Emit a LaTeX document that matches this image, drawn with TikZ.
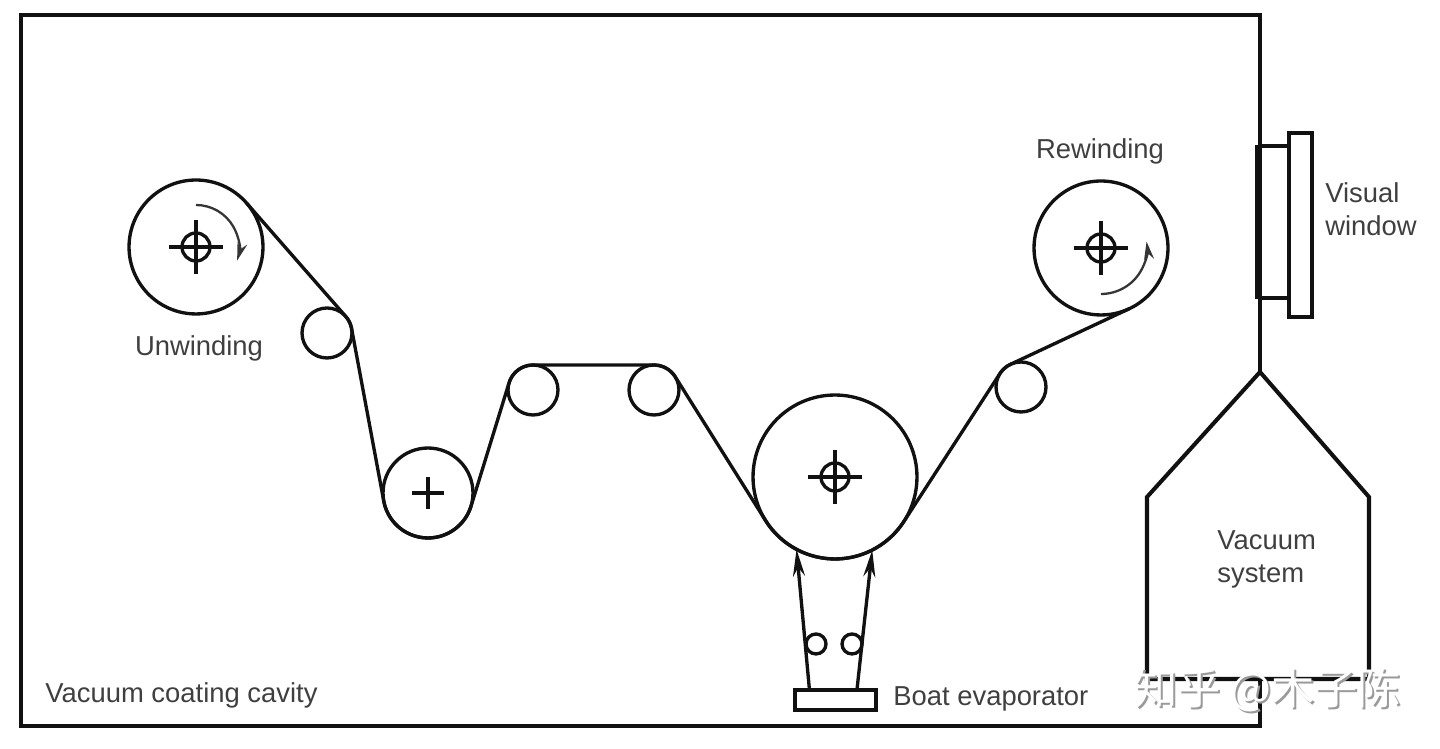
\documentclass[tikz,border=0pt]{standalone}
\usepackage{fontspec}
\setmainfont{Liberation Sans}
\newfontfamily\cjk{Noto Sans CJK SC}
\usepackage{xcolor}
\usetikzlibrary{arrows.meta}
\definecolor{tinta}{HTML}{111111}
\definecolor{grisrotulo}{HTML}{3F3F3F}
\definecolor{grismarca}{HTML}{9A9A9A}
\tikzset{
  linea/.style={draw=tinta,line width=1.9pt},
  marco/.style={draw=tinta,line width=2.3pt,line join=miter},
  rodillo/.style={circle,draw=tinta,line width=1.9pt,inner sep=0pt,outer sep=0pt,minimum size=#1*0.04cm},
  pelicula/.style={draw=tinta,line width=1.9pt,line join=round},
  giro/.style={-{Stealth[length=3.6mm,width=2mm]},draw=tinta!85,line width=1.3pt},
  vapor/.style={-{Stealth[length=5.4mm,width=2.4mm]},draw=tinta,line width=1.9pt},
  rotulo/.style={font=\fontsize{15.6}{18.8}\selectfont,text=grisrotulo,align=left,inner sep=0pt},
  marca/.style={font=\fontsize{24.6}{28}\cjk,inner sep=0pt},
}
\newcommand{\mira}[1]{
  \draw[linea] (#1.center) circle[radius=14];
  \draw[linea] ([xshift=-0.54cm]#1.center) -- ([xshift=0.54cm]#1.center);
  \draw[linea] ([yshift=-0.54cm]#1.center) -- ([yshift=0.54cm]#1.center);
}
\begin{document}
\begin{tikzpicture}[x=0.02cm,y=0.02cm]
  \useasboundingbox (0,0) rectangle (1440,749);
  % cavity and pump
  \draw[marco] (1260,377) -- (1260,734) -- (21,734) -- (21,23) -- (1260,23) -- (1260,70);
  \draw[marco] (1260,377) -- (1369,252) -- (1369,70) -- (1147,70) -- (1147,252) -- cycle;
  % window
  \draw[linea] (1258,603) -- (1288,603) (1258,451) -- (1288,451);
  \draw[draw=tinta,line width=3.6pt] (1258,604) -- (1258,450);
  \draw[linea] (1289,616) rectangle (1312,432);
  % rollers
  \node[rodillo=67] (desenrollo) at (196,502) {};
  \node[rodillo=25] (guiaa) at (327,416) {};
  \node[rodillo=45] (tensor) at (428,256) {};
  \node[rodillo=25] (guiab) at (533,359) {};
  \node[rodillo=25] (guiac) at (654,359) {};
  \node[rodillo=82] (tambor) at (835,272) {};
  \node[rodillo=25] (guiad) at (1021,362) {};
  \node[rodillo=67] (rebobinado) at (1101,501) {};
  \mira{desenrollo}
  \mira{tambor}
  \mira{rebobinado}
  \draw[linea] ([xshift=-0.32cm]tensor.center) -- ([xshift=0.32cm]tensor.center);
  \draw[linea] ([yshift=-0.32cm]tensor.center) -- ([yshift=0.32cm]tensor.center);
  % film
  \draw[pelicula] (desenrollo.41) -- (guiaa.41) arc[start angle=41,end angle=11,radius=25]
    -- (tensor.191) arc[start angle=191,end angle=343,radius=45]
    -- (guiab.163) arc[start angle=163,end angle=90,radius=25]
    -- (guiac.90) arc[start angle=90,end angle=32,radius=25]
    -- (tambor.212) arc[start angle=212,end angle=327,radius=82]
    -- (guiad.147) arc[start angle=147,end angle=115,radius=25]
    -- (rebobinado.295);
  \draw[giro] ([yshift=0.84cm]desenrollo.center) arc[start angle=90,end angle=-17,radius=43];
  \draw[giro] ([yshift=-0.92cm]rebobinado.center) arc[start angle=-90,end angle=8,radius=46];
  % boat
  \node[draw=tinta,line width=1.9pt,minimum width=1.62cm,minimum height=0.4cm,inner sep=0pt,outer sep=0pt] (bote) at (835.5,49) {};
  \draw[vapor] (bote.159) -- (tambor.242);
  \draw[vapor] (bote.25) -- (tambor.297);
  \node[rodillo=10] (fuentea) at (816,105) {};
  \node[rodillo=10] (fuenteb) at (852,105) {};
  % labels
  \node[rotulo] (lunw) at (199,401) {Unwinding};
  \node[rotulo] (lrew) at (1100,598) {Rewinding};
  \node[rotulo,anchor=west] (lvis) at (1325,540) {Visual\\window};
  \node[rotulo,anchor=west] (lvac) at (1217,190) {Vacuum\\system};
  \node[rotulo,anchor=west] (lcav) at (45,54) {Vacuum coating cavity};
  \node[rotulo,anchor=west] (lbot) at (893,50) {Boat evaporator};
  % watermark
  \node[marca,text=grismarca,anchor=west] (msombra) at (1136,57) {知乎 @木子陈};
  \node[marca,text=white,anchor=west] (mtexto) at (1134,59) {知乎 @木子陈};
\end{tikzpicture}
\end{document}
